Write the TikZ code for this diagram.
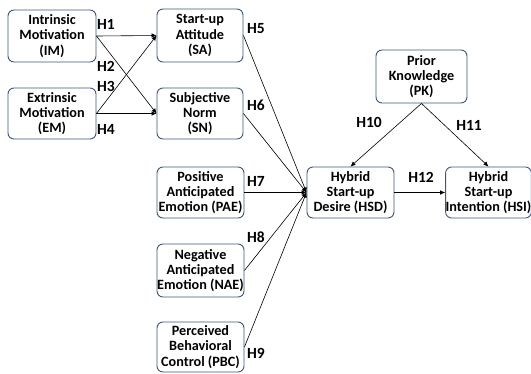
\documentclass[tikz,border=0pt]{standalone}
\usepackage{fontspec}
\setmainfont{Carlito}
\usetikzlibrary{arrows.meta}
\definecolor{boxline}{RGB}{62,86,124}
\begin{document}
\begin{tikzpicture}[x=1pt,y=-1pt,
  box/.style={draw=boxline,line width=0.9pt,rounded corners=6pt,fill=white,
    align=center,inner sep=0pt,font=\fontsize{14.2}{15.2}\selectfont\bfseries},
  hlab/.style={anchor=west,inner sep=0pt,font=\fontsize{15.5}{16}\selectfont\bfseries},
  arr/.style={-{Latex[length=5pt,width=4.5pt]},line width=0.6pt,black}]
\useasboundingbox (0,0) rectangle (531,373);
\fill[white] (0,0) rectangle (531,373);
\node[box,minimum width=88pt,minimum height=52pt] (IM) at (52,36) {Intrinsic\\Motivation\\(IM)};
\node[box,minimum width=88pt,minimum height=51pt] (EM) at (52,113.5) {Extrinsic\\Motivation\\(EM)};
\node[box,minimum width=86pt,minimum height=53pt] (SA) at (200,35.5) {Start-up\\Attitude\\(SA)};
\node[box,minimum width=86pt,minimum height=51pt] (SN) at (200,113.5) {Subjective\\Norm\\(SN)};
\node[box,minimum width=87pt,minimum height=51pt] (PAE) at (200.5,192.5) {Positive\\Anticipated\\Emotion (PAE)};
\node[box,minimum width=87pt,minimum height=53pt] (NAE) at (200.5,270.5) {Negative\\Anticipated\\Emotion (NAE)};
\node[box,minimum width=87pt,minimum height=50pt] (PBC) at (200.5,347) {Perceived\\Behavioral\\Control (PBC)};
\node[box,minimum width=87pt,minimum height=51pt] (HSD) at (350.5,192.5) {Hybrid\\Start-up\\Desire (HSD)};
\node[box,minimum width=83pt,minimum height=51pt] (HSI) at (488.5,192.5) {Hybrid\\Start-up\\Intention (HSI)};
\node[box,minimum width=91pt,minimum height=53pt] (PK) at (421.5,76.5) {Prior\\Knowledge\\(PK)};

\draw[arr] (IM.east) -- (SA.west);
\draw[arr] (IM.east) -- (SN.west);
\draw[arr] (EM.east) -- (SA.west);
\draw[arr] (EM.east) -- (SN.west);
\draw[arr] (SA.east) -- (HSD.west);
\draw[arr] (SN.east) -- (HSD.west);
\draw[arr] (PAE.east) -- (HSD.west);
\draw[arr] (NAE.east) -- (HSD.west);
\draw[arr] (PBC.east) -- (HSD.west);
\draw[arr] (PK.south) -- (HSD.north);
\draw[arr] (PK.south) -- (HSI.north);
\draw[arr] (HSD.east) -- (HSI.west);

\node[hlab] (h1) at (97,24) {H1};
\node[hlab] (h2) at (97,66) {H2};
\node[hlab] (h3) at (97,86.5) {H3};
\node[hlab] (h4) at (97,129.5) {H4};
\node[hlab] (h5) at (247,29) {H5};
\node[hlab] (h6) at (247,105) {H6};
\node[hlab] (h7) at (247,181) {H7};
\node[hlab] (h8) at (247,237) {H8};
\node[hlab] (h9) at (247,353) {H9};
\node[hlab,anchor=center] (h10) at (369,122) {H10};
\node[hlab,anchor=center] (h11) at (469,125) {H11};
\node[hlab,anchor=center] (h12) at (421,177) {H12};
\end{tikzpicture}
\end{document}
